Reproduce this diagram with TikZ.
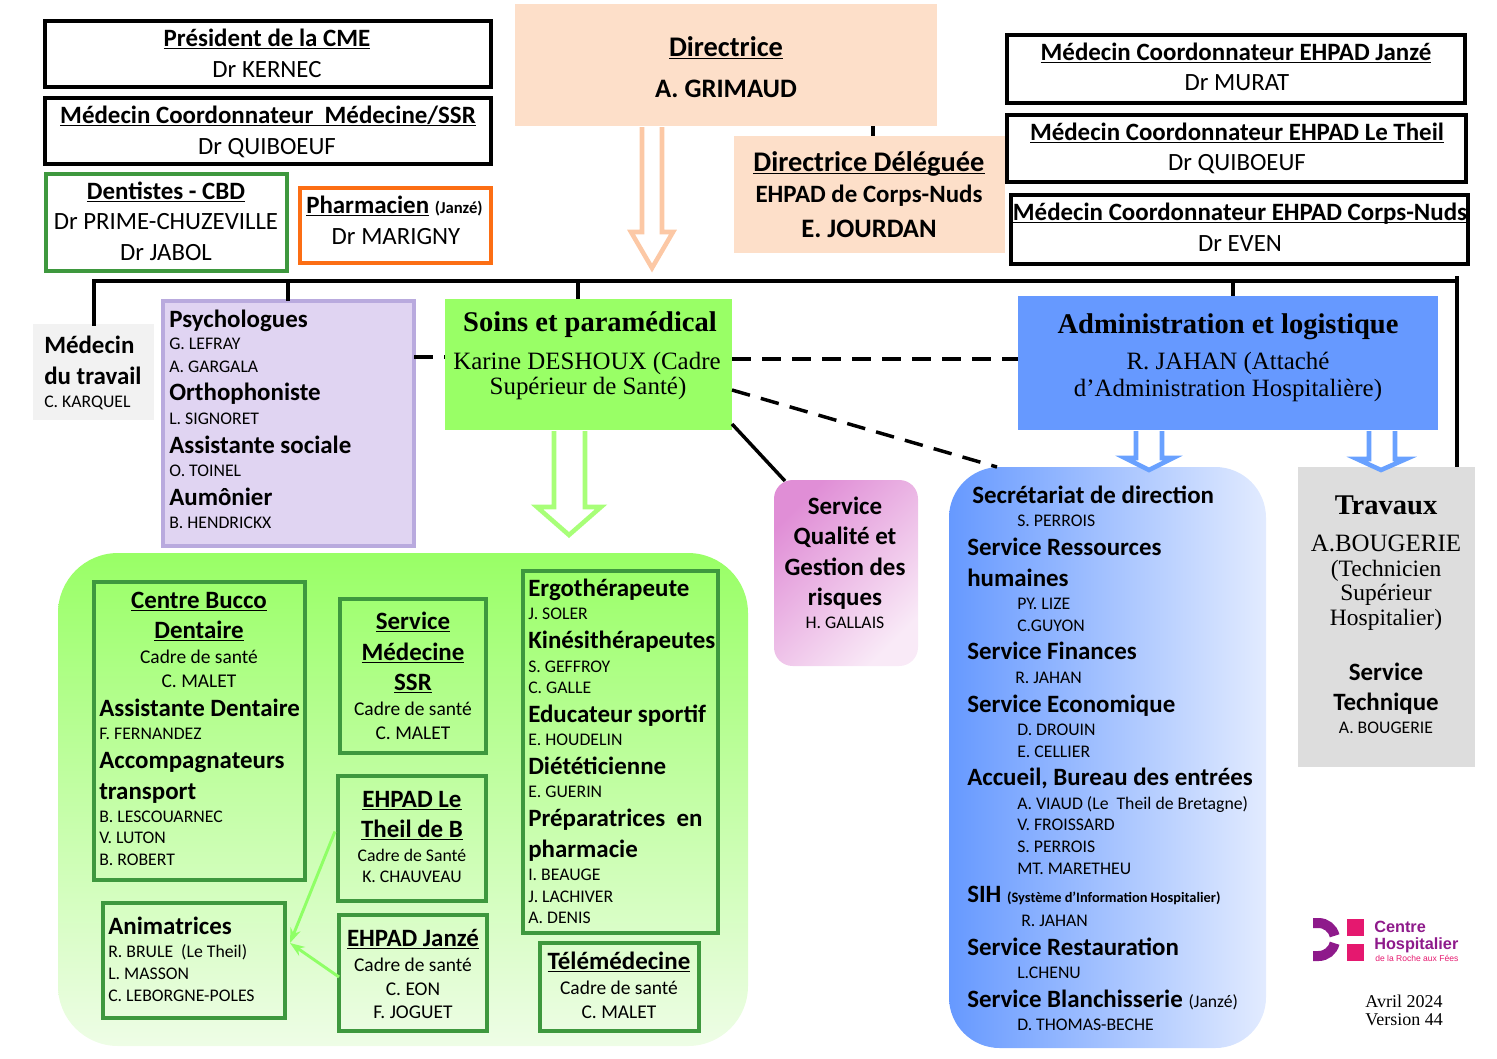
\documentclass[tikz,border=0pt]{standalone}
\usepackage{fontspec}
\setmainfont{Carlito}
\newfontfamily\timesface{Liberation Serif}
\newfontfamily\arialface{Liberation Sans}
\usetikzlibrary{fit,arrows.meta}

\definecolor{peachfill}{RGB}{253,223,201}
\definecolor{peachline}{RGB}{252,200,165}
\definecolor{limefill}{RGB}{153,255,102}
\definecolor{limeline}{RGB}{168,255,120}
\definecolor{limesoft}{RGB}{238,253,230}
\definecolor{boxgreen}{RGB}{62,152,62}
\definecolor{boxorange}{RGB}{252,110,20}
\definecolor{lilacfill}{RGB}{224,212,242}
\definecolor{lilacline}{RGB}{185,170,222}
\definecolor{bluefill}{RGB}{102,153,255}
\definecolor{bluesoft}{RGB}{226,235,255}
\definecolor{blueline}{RGB}{105,161,255}
\definecolor{pinkfill}{RGB}{224,142,214}
\definecolor{pinksoft}{RGB}{249,234,247}
\definecolor{greyfill}{RGB}{221,221,221}
\definecolor{palegrey}{RGB}{242,242,242}
\definecolor{logopurple}{RGB}{142,26,139}
\definecolor{logopink}{RGB}{229,24,111}

\newcommand{\ulbar}[1]{\setbox0=\hbox{#1}\rlap{\rule[-2.4pt]{\wd0}{1pt}}\box0\relax}

\tikzset{
  frame/.style={inner sep=0pt,outer sep=0pt},
  blackbox/.style={frame,draw=black,line width=2.6pt},
  greenbox/.style={frame,draw=boxgreen,line width=2.3pt},
  hd/.style={inner sep=0pt,font=\fontsize{18.7}{22}\selectfont\bfseries,anchor=base},
  hdl/.style={hd,anchor=base west},
  nm/.style={inner sep=0pt,font=\fontsize{18.6}{22}\selectfont,anchor=base},
  sm/.style={inner sep=0pt,font=\fontsize{13.3}{16}\selectfont,anchor=base},
  sml/.style={sm,anchor=base west},
  smc/.style={sm,font=\fontsize{14.6}{17}\selectfont},
  big/.style={hd,font=\fontsize{20}{24}\selectfont\bfseries},
  bigu/.style={hd,font=\fontsize{21.3}{25}\selectfont\bfseries},
  tmb/.style={inner sep=0pt,anchor=base,font=\fontsize{21.4}{25}\selectfont\timesface\bfseries},
  tmr/.style={inner sep=0pt,anchor=base,font=\fontsize{18.7}{22}\selectfont\timesface},
  tms/.style={tmr,font=\fontsize{17.6}{21}\selectfont\timesface},
  busline/.style={line width=2.6pt,line cap=rect},
  dashline/.style={line width=2.6pt,dash pattern=on 14pt off 8.5pt},
  hollow/.style={line width=3.4pt,fill=white,miter limit=10},
  feed/.style={draw=limeline!85!green,line width=2.2pt,-{Stealth[length=11pt,width=8pt]}}
}

\begin{document}
\begin{tikzpicture}[x=0.75pt,y=0.75pt,yscale=-1,xscale=1]
\useasboundingbox (0,0) rectangle (1497,1058);

%Shape: big rounded panels
\node (panel) [frame,fit={(58,553)(748,1046)},rounded corners=45pt,top color=limefill,bottom color=limesoft] {};
\node (services) [frame,fit={(949,467)(1266,1048)},rounded corners=38pt,left color=bluefill,right color=bluesoft] {};
\node (qualite) [frame,fit={(774,480)(918,666)},rounded corners=14pt,top color=pinkfill,bottom color=pinksoft,shading angle=45] {};
\node (travaux) [frame,fill=greyfill,fit={(1298,467)(1475,767)}] {};

%Shape: top boxes
\node (dir) [frame,fill=peachfill,fit={(515,4)(937,126)}] {};
\node (deleg) [frame,fill=peachfill,fit={(734,136)(1005,253)}] {};
\node (cme) [blackbox,fit={(45,21)(491,87)}] {};
\node (mcssr) [blackbox,fit={(45,98)(491,164)}] {};
\node (cbd) [greenbox,fit={(46,174)(287,271)}] {};
\node (pharma) [frame,draw=boxorange,line width=2.3pt,fit={(300,188)(491,263)}] {};
\node (mcjanze) [blackbox,fit={(1007,35)(1465,103)}] {};
\node (mctheil) [blackbox,fit={(1007,115)(1466,182)}] {};
\node (mccorps) [blackbox,fit={(1011,195)(1468,264)}] {};

%Shape: second row
\node (medtrav) [frame,fill=palegrey,fit={(33,324)(154,420)}] {};
\node (psy) [frame,fill=lilacfill,draw=lilacline,line width=2.3pt,fit={(163,301)(414,546)}] {};
\node (soins) [frame,fill=limefill,fit={(445,299)(732,430)}] {};
\node (admin) [frame,fill=bluefill,fit={(1018,296)(1438,430)}] {};

%Shape: boxes on the green panel
\node (bucco) [greenbox,fit={(94,582)(305,880)}] {};
\node (ssr) [greenbox,fit={(340,599)(486,753)}] {};
\node (theil) [greenbox,fit={(338,776)(486,901)}] {};
\node (janze) [greenbox,fit={(339,915)(487,1031)}] {};
\node (anim) [greenbox,fit={(103,903)(285,1018)}] {};
\node (ergo) [greenbox,fit={(523,571)(718,933)}] {};
\node (tele) [greenbox,fit={(540,943)(699,1031)}] {};

%Straight Lines: the bus and its drops
\coordinate (busl) at (94,281);
\coordinate (busr) at (1457,281);
\coordinate (bustop) at (1457,276);
\coordinate (buspsy) at (288,281);
\coordinate (bussoins) at (578,281);
\coordinate (busadmin) at (1233,281);
\coordinate (stub) at (873,130);
\draw [busline] (busl) -- (busr);
\draw [busline] (busl) -- (busl |- medtrav.north);
\draw [busline,line cap=butt] (buspsy) -- (buspsy |- psy.north);
\draw [busline,line cap=butt] (bussoins) -- (bussoins |- soins.north);
\draw [busline,line cap=butt] (busadmin) -- (busadmin |- admin.north);
\draw [busline,line cap=butt] (bustop) -- (bustop |- travaux.north);
\draw [busline,line cap=butt] (stub |- dir.south) -- (stub |- deleg.north);

%Straight Lines: dashed and plain links
\coordinate (dasha) at (430,357);
\coordinate (dashb) at (800,359);
\coordinate (dashc) at (997,467);
\draw [dashline] (psy.east |- dasha) -- (soins.west |- dasha);
\draw [dashline] (soins.east |- dashb) -- (admin.west |- dashb);
\draw [dashline] ([shift={(0,91)}]soins.north east) -- (dashc);
\draw [line width=2.6pt] ([shift={(0,-6)}]soins.south east) -- ([shift={(11,1)}]qualite.north west);

%Shape: hollow down arrows
\draw [hollow,draw=peachline] (642,127) -- (642,232) -- (631,232) -- (652,268) -- (673,232) -- (662,232) -- (662,127);
\draw [hollow,draw=limeline] (554,431) -- (554,507) -- (537,507) -- (569,535) -- (601,507) -- (585,507) -- (585,431);
\draw [hollow,draw=blueline] (1136,431) -- (1136,458) -- (1125,458) -- (1149,470) -- (1173,458) -- (1162,458) -- (1162,431);
\draw [hollow,draw=blueline] (1369,431) -- (1369,459) -- (1357,459) -- (1381,470) -- (1406,459) -- (1395,459) -- (1395,431);

%Straight Lines: arrows to the Animatrices box
\coordinate (animin) at (290,943);
\draw [feed] ([shift={(-3,-7)}]theil.west) -- (animin);
\draw [feed] ([yshift=3pt]janze.west) -- (animin);

% Text Node
\node (t1) [hd] at (267,46) {\ulbar{Président de la CME}};
\node (t2) [nm] at (267,77) {Dr KERNEC};
\node (t3) [hd] at (268,123) {\ulbar{Médecin Coordonnateur\ \ Médecine/SSR}};
\node (t4) [nm] at (267,154) {Dr QUIBOEUF};
\node (t5) [hd] at (166,199) {\ulbar{Dentistes - CBD}};
\node (t6) [nm] at (166,229) {Dr PRIME-CHUZEVILLE};
\node (t7) [nm] at (166,260) {Dr JABOL};
\node (t8) [hdl] at (306,213) {\ulbar{Pharmacien} {\fontsize{12.5}{14}\selectfont(Janzé)}};
\node (t9) [nm] at (396,244) {Dr MARIGNY};
\node (t10) [bigu] at (726,56) {\ulbar{Directrice}};
\node (t11) [big] at (726,97) {A. GRIMAUD};
\node (t12) [bigu] at (869,171) {\ulbar{Directrice Déléguée}};
\node (t13) [hd] at (869,202) {EHPAD de Corps-Nuds};
\node (t14) [big] at (869,237) {E. JOURDAN};
\node (t15) [hd] at (1236,60) {\ulbar{Médecin Coordonnateur EHPAD Janzé}};
\node (t16) [nm] at (1237,90) {Dr MURAT};
\node (t17) [hd] at (1237,140) {\ulbar{Médecin Coordonnateur EHPAD Le Theil}};
\node (t18) [nm] at (1237,170) {Dr QUIBOEUF};
\node (t19) [hd] at (1240,220) {\ulbar{Médecin Coordonnateur EHPAD Corps-Nuds}};
\node (t20) [nm] at (1240,251) {Dr EVEN};

% Text Node
\node (t21) [hdl] at (44,353) {Médecin};
\node (t22) [hdl] at (44,384) {du travail};
\node (t23) [sml] at (44,407) {C. KARQUEL};
\node (t24) [hdl] at (169,327) {Psychologues};
\node (t25) [sml] at (169,349) {G. LEFRAY};
\node (t26) [sml] at (169,372) {A. GARGALA};
\node (t27) [hdl] at (169,400) {Orthophoniste};
\node (t28) [sml] at (169,424) {L. SIGNORET};
\node (t29) [hdl] at (169,453) {Assistante sociale};
\node (t30) [sml] at (169,476) {O. TOINEL};
\node (t31) [hdl] at (169,505) {Aumônier};
\node (t32) [sml] at (169,528) {B. HENDRICKX};
\node (t33) [tmb] at (590,331) {Soins et paramédical};
\node (t34) [tmr] at (587,369) {Karine DESHOUX (Cadre};
\node (t35) [tmr] at (588,394) {Supérieur de Santé)};
\node (t36) [tmb] at (1228,333) {Administration et logistique};
\node (t37) [tmr] at (1228,369) {R. JAHAN (Attaché};
\node (t38) [tmr] at (1228,396) {d’Administration Hospitalière)};

% Text Node
\node (t39) [hd] at (199,608) {\ulbar{Centre Bucco}};
\node (t40) [hd] at (199,638) {\ulbar{Dentaire}};
\node (t41) [smc] at (199,663) {Cadre de santé};
\node (t42) [smc] at (199,687) {C. MALET};
\node (t43) [hdl] at (99,716) {Assistante Dentaire};
\node (t44) [sml] at (99,739) {F. FERNANDEZ};
\node (t45) [hdl] at (99,768) {Accompagnateurs};
\node (t46) [hdl] at (99,799) {transport};
\node (t47) [sml] at (99,822) {B. LESCOUARNEC};
\node (t48) [sml] at (99,843) {V. LUTON};
\node (t49) [sml] at (99,865) {B. ROBERT};
\node (t50) [hd] at (413,629) {\ulbar{Service}};
\node (t51) [hd] at (413,660) {\ulbar{Médecine}};
\node (t52) [hd] at (413,690) {\ulbar{SSR}};
\node (t53) [smc] at (413,715) {Cadre de santé};
\node (t54) [smc] at (413,739) {C. MALET};
\node (t55) [hd] at (412,807) {\ulbar{EHPAD Le}};
\node (t56) [hd] at (412,837) {\ulbar{Theil de B}};
\node (t57) [sm] at (412,861) {Cadre de Santé};
\node (t58) [sm] at (412,882) {K. CHAUVEAU};
\node (t59) [hd] at (413,946) {\ulbar{EHPAD Janzé}};
\node (t60) [smc] at (413,971) {Cadre de santé};
\node (t61) [smc] at (413,995) {C. EON};
\node (t62) [smc] at (413,1018) {F. JOGUET};
\node (t63) [hdl] at (108,934) {Animatrices};
\node (t64) [sml] at (108,957) {R. BRULE\ \ (Le Theil)};
\node (t65) [sml] at (108,979) {L. MASSON};
\node (t66) [sml] at (108,1001) {C. LEBORGNE-POLES};
\node (t67) [hdl] at (528,596) {Ergothérapeute};
\node (t68) [sml] at (528,619) {J. SOLER};
\node (t69) [hdl] at (528,648) {Kinésithérapeutes};
\node (t70) [sml] at (528,672) {S. GEFFROY};
\node (t71) [sml] at (528,693) {C. GALLE};
\node (t72) [hdl] at (528,722) {Educateur sportif};
\node (t73) [sml] at (528,745) {E. HOUDELIN};
\node (t74) [hdl] at (528,774) {Diététicienne};
\node (t75) [sml] at (528,797) {E. GUERIN};
\node (t76) [hdl] at (528,826) {Préparatrices\ \ en};
\node (t77) [hdl] at (528,857) {pharmacie};
\node (t78) [sml] at (528,880) {I. BEAUGE};
\node (t79) [sml] at (528,902) {J. LACHIVER};
\node (t80) [sml] at (528,923) {A. DENIS};
\node (t81) [hd] at (619,969) {\ulbar{Télémédecine}};
\node (t82) [smc] at (619,994) {Cadre de santé};
\node (t83) [smc] at (619,1018) {C. MALET};
\node (t84) [hd] at (845,514) {Service};
\node (t85) [hd] at (845,544) {Qualité et};
\node (t86) [hd] at (845,575) {Gestion des};
\node (t87) [hd] at (845,605) {risques};
\node (t88) [sm] at (845,628) {H. GALLAIS};

% Text Node
\node (t89) [hdl] at (972,503) {Secrétariat de direction};
\node (t90) [sml] at (1017,526) {S. PERROIS};
\node (t91) [hdl] at (967,555) {Service Ressources};
\node (t92) [hdl] at (967,586) {humaines};
\node (t93) [sml] at (1017,609) {PY. LIZE};
\node (t94) [sml] at (1017,631) {C.GUYON};
\node (t95) [hdl] at (967,659) {Service Finances};
\node (t96) [sml] at (1015,683) {R. JAHAN};
\node (t97) [hdl] at (967,712) {Service Economique};
\node (t98) [sml] at (1017,735) {D. DROUIN};
\node (t99) [sml] at (1017,757) {E. CELLIER};
\node (t100) [hdl] at (967,785) {Accueil, Bureau des entrées};
\node (t101) [sml] at (1017,809) {A. VIAUD (Le\ \ Theil de Bretagne)};
\node (t102) [sml] at (1017,830) {V. FROISSARD};
\node (t103) [sml] at (1017,852) {S. PERROIS};
\node (t104) [sml] at (1017,874) {MT. MARETHEU};
\node (t105) [hdl] at (967,902) {SIH {\fontsize{10.8}{12}\selectfont (Système d’Information Hospitalier)}};
\node (t106) [sml] at (1021,926) {R. JAHAN};
\node (t107) [hdl] at (967,955) {Service Restauration};
\node (t108) [sml] at (1017,978) {L.CHENU};
\node (t109) [hdl] at (967,1007) {Service Blanchisserie {\fontsize{13.2}{15}\selectfont\mdseries (Janzé)}};
\node (t110) [sml] at (1017,1030) {D. THOMAS-BECHE};
\node (t111) [tmb] at (1386,514) {Travaux};
\node (t112) [tmr] at (1386,551) {A.BOUGERIE};
\node (t113) [tms] at (1386,576) {(Technicien};
\node (t114) [tms] at (1386,600) {Supérieur};
\node (t115) [tms] at (1386,625) {Hospitalier)};
\node (t116) [hd] at (1386,680) {Service};
\node (t117) [hd] at (1386,710) {Technique};
\node (t118) [sm] at (1386,733) {A. BOUGERIE};

%Shape: logo
\draw [logopurple,line width=7.5pt] (1313,923) -- (1318.5,923) arc (-90:-13:16.5);
\draw [logopurple,line width=7.5pt] (1313,956) -- (1318.5,956) arc (90:13:16.5);
\fill [logopink] (1347,919) rectangle (1364,936);
\fill [logopink] (1347,944) rectangle (1364,961);
\node (logoa) [inner sep=0pt,anchor=base west,text=logopurple,font=\fontsize{12.2}{14}\selectfont\arialface\bfseries] at (1374,932) {Centre};
\node (logob) [inner sep=0pt,anchor=base west,text=logopurple,font=\fontsize{12.2}{14}\selectfont\arialface\bfseries] at (1374,949) {Hospitalier};
\node (logoc) [inner sep=0pt,anchor=base west,text=logopink,font=\fontsize{6.4}{8}\selectfont\arialface] at (1375,961) {de la Roche aux Fées};
\node (avril) [inner sep=0pt,anchor=base,font=\fontsize{13.5}{15}\selectfont\timesface] at (1404,1007) {Avril 2024};
\node (version) [inner sep=0pt,anchor=base,font=\fontsize{13.5}{15}\selectfont\timesface] at (1404,1025) {Version 44};

\end{tikzpicture}
\end{document}
